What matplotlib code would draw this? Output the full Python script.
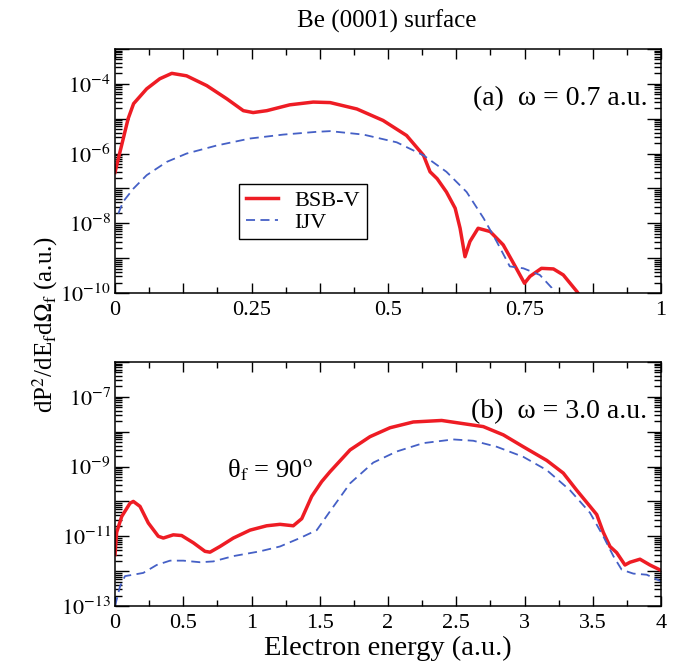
import math
import matplotlib
matplotlib.use('Agg')
import matplotlib.pyplot as plt
from matplotlib.ticker import MultipleLocator, LogLocator, FuncFormatter, NullFormatter

plt.rcParams['font.family'] = ['Liberation Serif', 'DejaVu Serif']
plt.rcParams['mathtext.fontset'] = 'stix'

RED = '#ee1c24'
BLUE = '#4560c6'

# panel (a): omega = 0.7 a.u.
energy_a_bsb = [0.000, 0.009, 0.024, 0.034, 0.058, 0.082, 0.104, 0.131, 0.168, 0.205, 0.235, 0.253,
                0.278, 0.320, 0.363, 0.394, 0.443, 0.491, 0.534, 0.565, 0.577, 0.590, 0.607, 0.623,
                0.632, 0.641, 0.650, 0.665, 0.687, 0.711, 0.733, 0.750, 0.760, 0.781, 0.803, 0.821,
                0.846, 0.852]
prob_a_bsb = [2.9e-7, 1.1e-6, 1.0e-5, 2.7e-5, 7.2e-5, 1.4e-4, 2.0e-4, 1.7e-4, 8.9e-5, 3.7e-5, 1.7e-5, 1.5e-5,
              1.7e-5, 2.5e-5, 3.0e-5, 2.9e-5, 1.9e-5, 8.9e-6, 3.3e-6, 8.9e-7, 3.0e-7, 1.9e-7, 7.9e-8, 2.7e-8,
              7.2e-9, 1.1e-9, 3.0e-9, 7.2e-9, 5.8e-9, 2.4e-9, 5.8e-10, 1.9e-10, 3.0e-10, 5.1e-10, 4.9e-10, 3.3e-10,
              1.1e-10, 8.0e-11]

energy_a_ijv = [0.006, 0.015, 0.034, 0.058, 0.095, 0.131, 0.186, 0.247, 0.308, 0.369, 0.394, 0.455,
                0.516, 0.565, 0.607, 0.644, 0.675, 0.699, 0.723, 0.748, 0.778, 0.800, 0.806]
prob_a_ijv = [1.9e-8, 4.2e-8, 1.0e-7, 2.4e-7, 5.8e-7, 1.0e-6, 1.7e-6, 2.7e-6, 3.5e-6, 4.2e-6, 4.4e-6, 3.5e-6,
              2.1e-6, 8.9e-7, 3.0e-7, 7.9e-8, 1.4e-8, 3.0e-9, 5.8e-10, 5.1e-10, 3.3e-10, 1.4e-10, 9.0e-11]

# panel (b): omega = 3.0 a.u.
energy_b_bsb = [0.000, 0.012, 0.049, 0.110, 0.134, 0.183, 0.244, 0.317, 0.354, 0.427, 0.488, 0.574,
                0.659, 0.696, 0.769, 0.867, 0.989, 1.111, 1.209, 1.306, 1.368, 1.441, 1.514, 1.575,
                1.722, 1.868, 2.015, 2.185, 2.393, 2.552, 2.698, 2.845, 2.991, 3.163, 3.284, 3.382,
                3.480, 3.529, 3.577, 3.626, 3.675, 3.736, 3.773, 3.846, 3.919, 4.000]
prob_b_bsb = [3.0e-12, 1.3e-11, 3.7e-11, 8.9e-11, 1.0e-10, 7.2e-11, 2.4e-11, 1.0e-11, 8.9e-12, 1.1e-11, 1.05e-11, 6.5e-12,
              3.7e-12, 3.5e-12, 5.1e-12, 8.9e-12, 1.5e-11, 2.0e-11, 2.2e-11, 2.0e-11, 3.2e-11, 1.4e-10, 3.7e-10, 7.1e-10,
              3.0e-9, 7.2e-9, 1.3e-8, 1.9e-8, 2.1e-8, 1.7e-8, 1.4e-8, 8.1e-9, 3.7e-9, 1.5e-9, 6.5e-10, 2.1e-10,
              7.2e-11, 4.2e-11, 1.3e-11, 5.1e-12, 3.4e-12, 1.5e-12, 1.8e-12, 2.2e-12, 1.5e-12, 1.05e-12]

energy_b_ijv = [0.000, 0.037, 0.073, 0.134, 0.207, 0.305, 0.403, 0.500, 0.623, 0.720, 0.867, 1.062,
                1.209, 1.355, 1.478, 1.575, 1.722, 1.892, 2.063, 2.258, 2.478, 2.625, 2.796, 2.991,
                3.163, 3.333, 3.480, 3.577, 3.651, 3.712, 3.797, 3.895, 4.000]
prob_b_ijv = [1.0e-13, 3.7e-13, 7.2e-13, 7.9e-13, 8.9e-13, 1.5e-12, 2.0e-12, 2.0e-12, 1.8e-12, 1.9e-12, 2.7e-12, 3.7e-12,
              5.1e-12, 8.9e-12, 1.5e-11, 5.2e-11, 3.3e-10, 1.3e-9, 2.7e-9, 4.7e-9, 6.0e-9, 5.5e-9, 3.7e-9, 1.9e-9,
              7.9e-10, 2.1e-10, 4.7e-11, 1.0e-11, 2.7e-12, 1.1e-12, 8.5e-13, 7.9e-13, 5.1e-13]


def decade_label(labelled):
    def fmt(val, pos):
        exp = int(round(math.log10(val)))
        if exp in labelled:
            return r'$\mathrm{10^{%d}}$' % exp
        return ''
    return fmt


def style_axes(ax, xmax, xmajor, xminor, xlabels, ymin, ymax, ylabelled):
    ax.set_xlim(0, xmax)
    ax.set_yscale('log')
    ax.set_ylim(ymin, ymax)
    ax.xaxis.set_major_locator(MultipleLocator(xmajor))
    ax.xaxis.set_minor_locator(MultipleLocator(xminor))
    ax.xaxis.set_major_formatter(FuncFormatter(
        lambda v, p: xlabels.get(round(v, 4), '')))
    ax.yaxis.set_major_locator(LogLocator(base=10, numticks=20))
    ax.yaxis.set_minor_locator(LogLocator(base=10, subs=range(2, 10), numticks=20))
    ax.yaxis.set_major_formatter(FuncFormatter(decade_label(ylabelled)))
    ax.yaxis.set_minor_formatter(NullFormatter())
    ax.tick_params(which='both', direction='in', top=True, right=True, labelsize=16, width=1.0)
    ax.tick_params(axis='x', which='major', length=7, pad=6)
    ax.tick_params(axis='x', which='minor', length=4)
    ax.tick_params(axis='y', which='major', length=10, pad=3)
    ax.tick_params(axis='y', which='minor', length=5)
    for sp in ax.spines.values():
        sp.set_linewidth(1.1)


fig = plt.figure(figsize=(6.79, 6.62), dpi=100)
ax_a = fig.add_axes([0.1694, 0.5574, 0.8041, 0.3686])
ax_b = fig.add_axes([0.1694, 0.0846, 0.8041, 0.3686])

ax_a.plot(energy_a_bsb, prob_a_bsb, color=RED, lw=2.5, label='BSB-V', solid_joinstyle='round')
ax_a.plot(energy_a_ijv, prob_a_ijv, color=BLUE, lw=1.3, ls=(0, (5, 3)), label='IJV')
style_axes(ax_a, 1, 0.125, 0.0625, {0.0: '0', 0.25: '0.25', 0.5: '0.5', 0.75: '0.75', 1.0: '1'},
           1e-10, 1e-3, {-4, -6, -8, -10})
leg = ax_a.legend(loc='upper left', bbox_to_anchor=(0.227, 0.447), fontsize=16, handlelength=1.45,
                  handletextpad=0.75, fancybox=False, edgecolor='black', framealpha=1,
                  borderpad=0.3, labelspacing=0.05, borderaxespad=0)
leg.get_frame().set_linewidth(1.0)
ax_a.text(0.975, 0.795, '(a)  ω = 0.7 a.u.', transform=ax_a.transAxes,
          ha='right', va='center', fontsize=20)

ax_b.plot(energy_b_bsb, prob_b_bsb, color=RED, lw=2.5, solid_joinstyle='round')
ax_b.plot(energy_b_ijv, prob_b_ijv, color=BLUE, lw=1.3, ls=(0, (5, 3)))
style_axes(ax_b, 4, 0.5, 0.25, {v / 2: ('%g' % (v / 2)) for v in range(9)},
           1e-13, 1e-6, {-7, -9, -11, -13})
ax_b.text(0.975, 0.795, '(b)  ω = 3.0 a.u.', transform=ax_b.transAxes,
          ha='right', va='center', fontsize=20)
ax_b.text(0.82, 8e-10, r'θ$_\mathrm{f}$ = 90$^\mathrm{o}$', fontsize=19, ha='left', va='center')
ax_b.set_xlabel('Electron energy (a.u.)', fontsize=20.5, labelpad=2)

fig.text(0.569, 0.968, 'Be (0001) surface', ha='center', va='center', fontsize=18)
fig.text(0.066, 0.51, r'dP$^2$/dE$_\mathrm{f}$d$\Omega_\mathrm{f}$ (a.u.)', rotation=90,
         ha='center', va='center', fontsize=18)

fig.savefig('out.png', dpi=100)
